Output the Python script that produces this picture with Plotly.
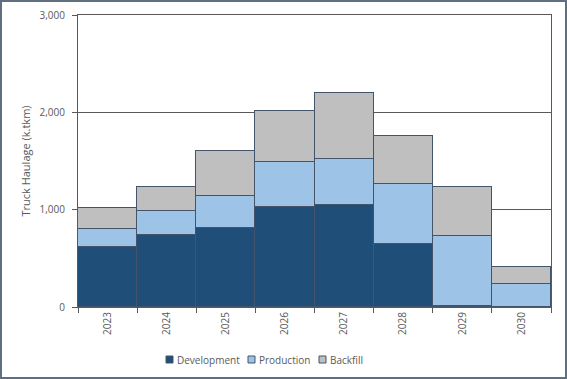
import plotly.graph_objects as go

years = ["2023", "2024", "2025", "2026", "2027", "2028", "2029", "2030"]
development = [618, 741, 809, 1028, 1044, 645, 15, 0]
production = [187, 242, 331, 460, 481, 614, 719, 240]
backfill = [212, 255, 467, 522, 669, 498, 494, 173]
y_ticks = [0, 1000, 2000, 3000]
y_tick_labels = ["0", "1,000", "2,000", "3,000"]
series_names = ["Development", "Production", "Backfill"]
series_colors = ["#1f4e79", "#9dc3e6", "#bfbfbf"]

edge = "#44546a"
txt = "#595959"
fig = go.Figure()
for name, vals, col in zip(series_names, [development, production, backfill], series_colors):
    fig.add_trace(go.Bar(x=years, y=vals, name=name, marker_color=col,
                         marker_line=dict(color=edge, width=1), showlegend=False))

W, H = 567, 379
L, R, T, B = 78, 16, 15, 72
pw, ph = W - L - R, H - T - B

def px_x(p):
    return (p - L) / pw

def px_y(p):
    return (H - B - p) / ph

shapes = [dict(type="rect", xref="paper", yref="paper",
               x0=px_x(1), x1=px_x(566), y0=px_y(378), y1=px_y(1),
               line=dict(color="#5f6f80", width=2), fillcolor="rgba(0,0,0,0)", layer="above")]
annotations = []
legend_x = [166, 248, 319]
for lx, name, col in zip(legend_x, series_names, series_colors):
    shapes.append(dict(type="rect", xref="paper", yref="paper",
                       x0=px_x(lx), x1=px_x(lx + 7), y0=px_y(363), y1=px_y(356),
                       line=dict(color=edge, width=1), fillcolor=col))
    annotations.append(dict(xref="paper", yref="paper", x=px_x(lx + 9), y=px_y(359.5),
                            xanchor="left", yanchor="middle", text=name, showarrow=False,
                            font=dict(size=10, color=txt)))

fig.update_layout(
    width=W, height=H, barmode="stack", bargap=0,
    margin=dict(l=L, r=R, t=T, b=B, autoexpand=False),
    paper_bgcolor="white", plot_bgcolor="white",
    font=dict(family="Open Sans", size=10, color=txt),
    showlegend=False,
    xaxis=dict(type="category", tickangle=-90, showline=True, linecolor=txt, mirror=True,
               ticks="outside", tickson="boundaries", ticklen=5, tickcolor=txt,
               tickfont=dict(size=10, color=txt), automargin=False),
    yaxis=dict(range=[0, 3000], tickvals=y_ticks, ticktext=y_tick_labels,
               showline=True, linecolor=txt, mirror=True, ticks="outside", ticklen=5,
               tickcolor=txt, showgrid=True, gridcolor=txt, gridwidth=1,
               zeroline=False, tickfont=dict(size=10, color=txt), automargin=False,
               ticklabelstandoff=5,
               title=dict(text="Truck Haulage (k.tkm)", font=dict(size=11, color=txt),
                          standoff=6)),
    shapes=shapes,
    annotations=annotations,
)
fig.write_html("out.html", config={"displayModeBar": False},
               post_script="document.body.style.margin='0';")
